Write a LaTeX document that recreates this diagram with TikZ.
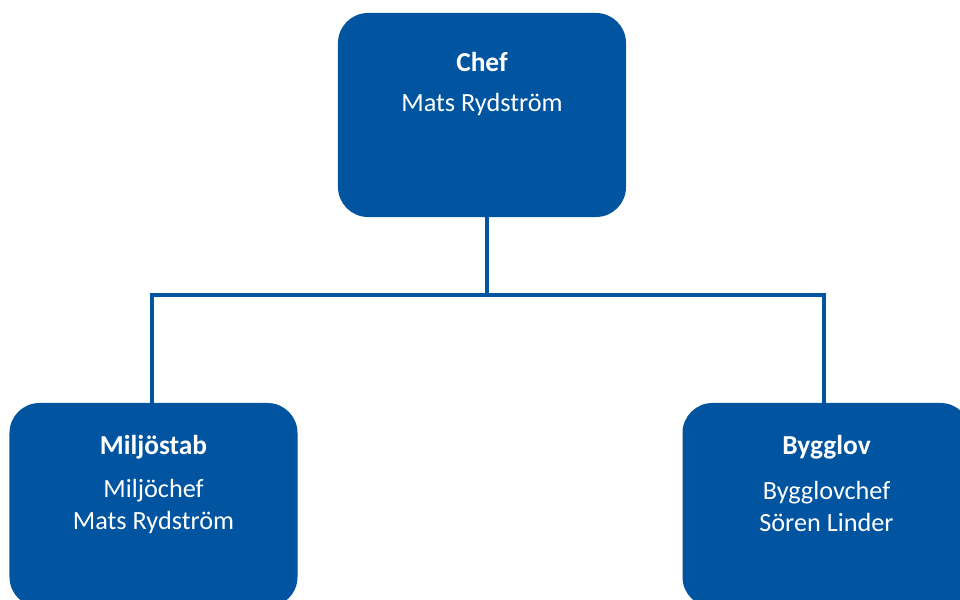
\documentclass[tikz,border=0pt]{standalone}
\usepackage{fontspec}
\setmainfont{Carlito}
\usetikzlibrary{calc}
\definecolor{orgblue}{RGB}{0,84,160}
\tikzset{
  unit/.style={fill=orgblue, rounded corners=0.9cm, minimum width=8.64cm, minimum height=6.12cm, inner sep=0pt},
  unittitle/.style={text=white, font=\fontsize{23.4}{28}\selectfont\bfseries, anchor=base},
  unittext/.style={text=white, font=\fontsize{22.4}{27}\selectfont, anchor=base},
  link/.style={draw=orgblue, line width=3.4pt},
}
\begin{document}
\begin{tikzpicture}[x=0.03cm, y=-0.03cm]
    \useasboundingbox (0,0) rectangle (960,600);
    % boxes
    \node[unit] (chef) at (482,115) {};
    \node[unit] (miljo) at (153.5,505) {};
    \node[unit] (bygg) at (826.5,505) {};
    % lines
    \coordinate (bus) at ($(chef.south)+(5,78)$);
    \draw[link] (chef.south -| bus) -- (bus);
    \draw[link] ($(miljo.north)+(-1.5,0)$) |- (bus) -| ($(bygg.north)+(-2.5,0)$);
    % texts
    \node[unittitle] (chefhead) at ($(chef.north)+(0,59)$) {Chef};
    \node[unittext] (chefname) at ($(chef.north)+(0,99)$) {Mats Rydström};
    \node[unittitle] (miljohead) at ($(miljo.north)+(0,52)$) {Miljöstab};
    \node[unittext] (miljorole) at ($(miljo.north)+(0,95)$) {Miljöchef};
    \node[unittext] (miljoname) at ($(miljo.north)+(0,127)$) {Mats Rydström};
    \node[unittitle] (bygghead) at ($(bygg.north)+(0,52)$) {Bygglov};
    \node[unittext] (byggrole) at ($(bygg.north)+(0,97)$) {Bygglovchef};
    \node[unittext] (byggname) at ($(bygg.north)+(0,129)$) {Sören Linder};
\end{tikzpicture}
\end{document}
